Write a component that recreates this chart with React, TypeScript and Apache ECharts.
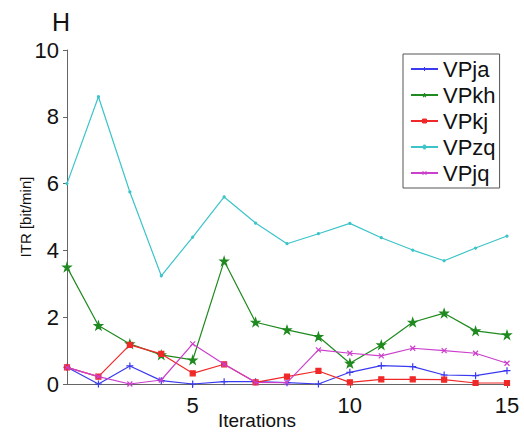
import React, { useEffect, useRef } from "react";
import * as echarts from "echarts";

const iterations = [1, 2, 3, 4, 5, 6, 7, 8, 9, 10, 11, 12, 13, 14, 15];
const seriesNames = ["VPja", "VPkh", "VPkj", "VPzq", "VPjq"];
const VPja = [0.5, 0.0, 0.54, 0.1, 0.0, 0.07, 0.07, 0.04, 0.0, 0.35, 0.55, 0.52, 0.27, 0.25, 0.4];
const VPkh = [3.5, 1.75, 1.2, 0.87, 0.72, 3.68, 1.85, 1.62, 1.42, 0.62, 1.17, 1.85, 2.12, 1.59, 1.47];
const VPkj = [0.5, 0.22, 1.17, 0.9, 0.32, 0.59, 0.05, 0.22, 0.39, 0.05, 0.14, 0.14, 0.13, 0.03, 0.03];
const VPzq = [6.0, 8.6, 5.75, 3.24, 4.4, 5.6, 4.82, 4.2, 4.5, 4.81, 4.38, 4.01, 3.69, 4.07, 4.43];
const VPjq = [0.5, 0.22, 0.0, 0.12, 1.2, 0.59, 0.05, 0.04, 1.02, 0.92, 0.84, 1.07, 1.0, 0.92, 0.62];
const yTicks = [0, 2, 4, 6, 8, 10];
const xTicks = [5, 10, 15];

const colors = ["#3a3af0", "#1f8a1f", "#f02828", "#3cc4c8", "#cc3fcc"];
const FONT = "Liberation Sans, Arial, sans-serif";

const plusPath = "path://M0,5 L10,5 M5,0 L5,10";
const crossPath = "path://M0,0 L10,10 M10,0 L0,10";
const starPath =
  "path://M5,0 L6.2,3.6 L10,3.6 L6.9,5.9 L8.1,9.5 L5,7.3 L1.9,9.5 L3.1,5.9 L0,3.6 L3.8,3.6 Z";

export default function App() {
  const ref = useRef<HTMLDivElement>(null);
  useEffect(() => {
    if (!ref.current) return;
    const chart = echarts.init(ref.current, null, { renderer: "svg" });
    const allData = [VPja, VPkh, VPkj, VPzq, VPjq];
    const symbols = [plusPath, starPath, "rect", "circle", crossPath];
    const sizes = [7, 8, 5, 2, 5];
    chart.setOption({
      animation: false,
      backgroundColor: "#ffffff",
      textStyle: { fontFamily: FONT },
      title: {
        text: "H",
        left: 52,
        top: 9,
        padding: 0,
        textStyle: { fontFamily: FONT, fontSize: 25, fontWeight: "normal", color: "#111" },
      },
      grid: { left: 67, right: 17, top: 50, bottom: 52, containLabel: false, outerBoundsMode: "none" },
      legend: {
        orient: "vertical",
        left: 403,
        top: 54,
        backgroundColor: "#fff",
        borderColor: "#555",
        borderWidth: 1,
        borderRadius: 0,
        padding: [4, 4, 4, 7],
        itemGap: 4,
        itemWidth: 27,
        itemHeight: 5,
        itemStyle: { borderWidth: 1 },
        textStyle: { fontFamily: FONT, fontSize: 22, color: "#111" },
        data: seriesNames,
      },
      xAxis: {
        type: "value",
        min: 1,
        max: 15,
        name: "Iterations",
        nameLocation: "middle",
        nameGap: 27,
        nameMoveOverlap: false,
        nameTextStyle: { fontFamily: FONT, fontSize: 19, color: "#111", padding: [0, 60, 0, 0] },
        axisLine: { show: true, lineStyle: { color: "#666", width: 1 } },
        axisTick: { show: true, inside: false, length: 4, customValues: xTicks, lineStyle: { color: "#666" } },
        axisLabel: { customValues: xTicks, fontFamily: FONT, fontSize: 22, color: "#111", margin: 10 },
        splitLine: { show: false },
      },
      yAxis: {
        type: "value",
        min: 0,
        max: 10,
        interval: 2,
        name: "ITR [bit/min]",
        nameLocation: "middle",
        nameGap: 34,
        nameMoveOverlap: false,
        nameTextStyle: { fontFamily: FONT, fontSize: 15, color: "#111" },
        axisLine: { show: true, lineStyle: { color: "#666", width: 1 } },
        axisTick: { show: true, inside: false, length: 4, customValues: yTicks, lineStyle: { color: "#666" } },
        axisLabel: { customValues: yTicks, fontFamily: FONT, fontSize: 22, color: "#111", margin: 8 },
        splitLine: { show: false },
      },
      series: seriesNames.map((name, i) => ({
        name,
        type: "line",
        data: iterations.map((x, j) => [x, allData[i][j]]),
        symbol: symbols[i],
        symbolSize: sizes[i],
        showAllSymbol: true,
        lineStyle: { color: colors[i], width: 1.2 },
        itemStyle: {
          color: i === 0 || i === 4 ? "none" : colors[i],
          borderColor: colors[i],
          borderWidth: 1.2,
        },
        emphasis: { disabled: true },
        z: i === 3 ? 1 : 2 + i,
      })),
    });
    return () => chart.dispose();
  }, []);
  return <div ref={ref} style={{ width: 524, height: 436, position: "absolute", left: 0, top: 0 }} />;
}
